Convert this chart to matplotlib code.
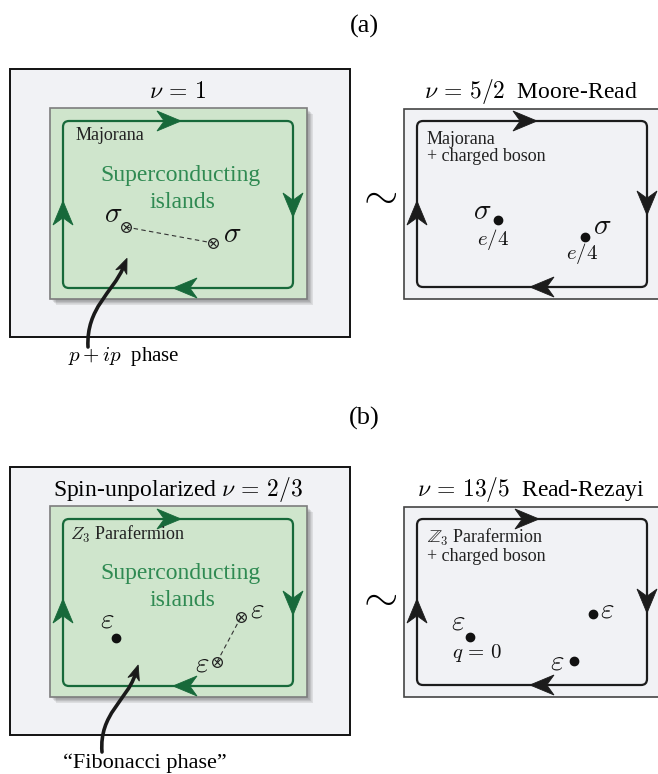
import numpy as np
import matplotlib
matplotlib.use('Agg')
import matplotlib.pyplot as plt
from matplotlib.patches import Rectangle, FancyBboxPatch, Polygon, PathPatch
from matplotlib.path import Path

plt.rcParams['font.family'] = ['Liberation Serif', 'DejaVu Serif']
plt.rcParams['mathtext.fontset'] = 'cm'

# text content
panel_tags = ['(a)', '(b)']
left_titles = [r'$\nu\,=\,1$', r'Spin-unpolarized $\nu\,=\,2/3$']
right_titles = [r'$\nu\,=\,5/2$  Moore-Read', r'$\nu\,=\,13/5$  Read-Rezayi']
left_labels = ['Majorana', r'$Z_3$ Parafermion']
right_labels = ['Majorana\n+ charged boson', r'$\mathbb{Z}_3$ Parafermion' + '\n+ charged boson']
phase_labels = [r'$p+ip$  phase', '\u201cFibonacci phase\u201d']
panel_dy = [0, 398]

# quasiparticles: (x, y, kind) kind: 'o' dot, 'x' vortex (otimes)
left_qp = [
    [(126, 227, 'x'), (213, 243, 'x')],
    [(116, 638, 'o'), (241, 617, 'x'), (217, 662, 'x')],
]
left_qp_txt = [
    [(113, 215, r'$\sigma$'), (232, 235, r'$\sigma$')],
    [(107, 621, r'$\varepsilon$'), (257, 610, r'$\varepsilon$'), (202, 665, r'$\varepsilon$')],
]
left_dash = [[(126, 227), (213, 243)], [(241, 617), (217, 662)]]
right_qp = [
    [(498, 220), (585, 237)],
    [(470, 637), (593, 614), (574, 661)],
]
right_qp_txt = [
    [(482, 212, r'$\sigma$'), (602, 227, r'$\sigma$')],
    [(458, 622, r'$\varepsilon$'), (607, 610, r'$\varepsilon$'), (557, 663, r'$\varepsilon$')],
]
charge_txt = [
    [(493, 240, r'$e/4$'), (582, 253, r'$e/4$')],
    [(477, 653, r'$q\,=\,0$')],
]

GREEN = '#17693a'
GREEN_TXT = '#2f8a52'
GREEN_FILL = '#cfe5cc'
GRAY_FILL = '#f1f2f5'


def head(ax, x, y, d, color, L=24, W=20, z=5):
    d = np.array(d, float)
    d = d / np.hypot(*d)
    n = np.array([-d[1], d[0]])
    c = np.array([x, y])
    pts = [c + L / 2 * d, c - L / 2 * d + W / 2 * n, c - L * 0.2 * d, c - L / 2 * d - W / 2 * n]
    ax.add_patch(Polygon(pts, closed=True, fc=color, ec=color, lw=0.6, zorder=z))


def loop(ax, x0, y0, x1, y1, color, arrows):
    ax.add_patch(FancyBboxPatch((x0, y0), x1 - x0, y1 - y0,
                                boxstyle='round,pad=0,rounding_size=6',
                                fc='none', ec=color, lw=1.6, zorder=4))
    top, right, bottom, left = arrows
    head(ax, top, y0, (1, 0), color)
    head(ax, x1, right, (0, 1), color)
    head(ax, bottom, y1, (-1, 0), color)
    head(ax, x0, left, (0, -1), color)


def otimes(ax, x, y):
    ax.plot(x, y, 'o', ms=7, mfc='none', mec='#222', mew=0.9, zorder=6)
    ax.plot(x, y, 'x', ms=4.2, mec='#222', mew=0.8, zorder=6)


def curved_arrow(ax, p0, p1, p2, p3):
    verts = [p0, p1, p2, p3]
    ax.add_patch(PathPatch(Path(verts, [Path.MOVETO, Path.CURVE4, Path.CURVE4, Path.CURVE4]),
                           fc='none', ec='#1a1a1a', lw=2.6, zorder=7, capstyle='round'))
    d = np.array(p3) - np.array(p2)
    d = d / np.hypot(*d)
    tip = np.array(p3) + d * 3
    head(ax, tip[0], tip[1], d, '#1a1a1a', L=15, W=12, z=8)


fig = plt.figure(figsize=(6.58, 7.74), dpi=100)
ax = fig.add_axes([0, 0, 1, 1])
ax.set_xlim(0, 658)
ax.set_ylim(774, 0)
ax.axis('off')

for i in range(2):
    dy = panel_dy[i]
    ax.text(364, 26 + dy - 6 * i, panel_tags[i], ha='center', va='center', fontsize=19)

    # left big box
    ax.add_patch(Rectangle((10, 69 + dy), 340, 268, fc=GRAY_FILL, ec='#111', lw=1.4, zorder=1))
    ax.text(178, 92 + dy, left_titles[i], ha='center', va='center', fontsize=17, zorder=3)

    # shadow + green island
    for k in range(8):
        ax.add_patch(Rectangle((50 + 2 + k * 0.6, 108 + dy + 2 + k * 0.6), 257, 191,
                               fc='#000', ec='none', alpha=0.045, zorder=2))
    ax.add_patch(Rectangle((50, 108 + dy), 257, 191, fc=GREEN_FILL, ec='#7d7d7d', lw=1.2, zorder=3))
    loop(ax, 63, 121 + dy, 293, 288 + dy, GREEN, (171 - 2, 205 + dy, 185, 213 + dy))

    ax.text(70 if i else 76, 136 + dy, left_labels[i], ha='left', va='center', fontsize=13, color='#222', zorder=6)
    ax.text(180, 175 + dy, 'Superconducting', ha='center', va='center', fontsize=17, color=GREEN_TXT, zorder=6)
    ax.text(182, 203 + dy, 'islands', ha='center', va='center', fontsize=17, color=GREEN_TXT, zorder=6)

    (xa, ya), (xb, yb) = left_dash[i]
    ax.plot([xa, xb], [ya, yb], ls=(0, (4, 3)), color='#333', lw=0.8, zorder=5)
    for x, y, kind in left_qp[i]:
        if kind == 'x':
            otimes(ax, x, y)
        else:
            ax.plot(x, y, 'o', ms=6, color='#111', zorder=6)
    for x, y, s in left_qp_txt[i]:
        ax.text(x, y, s, ha='center', va='center', fontsize=21, color='#111', zorder=6)

    # right box
    ax.text(531, 92 + dy, right_titles[i], ha='center', va='center', fontsize=17)
    ax.add_patch(Rectangle((404, 109 + dy), 270, 190, fc=GRAY_FILL, ec='#444', lw=1.2, zorder=1))
    loop(ax, 417, 121 + dy, 647, 287 + dy, '#1c1c1c', (525 + 2 * i, 203 + dy, 542, 213 + dy))
    ax.text(427, 148 + dy, right_labels[i], ha='left', va='center', fontsize=13,
            color='#222', linespacing=1.05, zorder=6)
    for x, y in right_qp[i]:
        ax.plot(x, y, 'o', ms=6, color='#111', zorder=6)
    for x, y, s in right_qp_txt[i]:
        ax.text(x, y, s, ha='center', va='center', fontsize=21, color='#111', zorder=6)
    for x, y, s in charge_txt[i]:
        ax.text(x, y, s, ha='center', va='center', fontsize=15, color='#111', zorder=6)

    ax.text(377, 196 + dy + 4 * i, r'$\sim$', ha='center', va='center', fontsize=32)

# curved arrows to the phase labels
curved_arrow(ax, (88, 347), (86, 308), (113, 292), (123, 268))
ax.text(124, 357, phase_labels[0], ha='center', va='center', fontsize=15)
curved_arrow(ax, (102, 752), (99, 714), (127, 700), (135, 675))
ax.text(145, 763, phase_labels[1], ha='center', va='center', fontsize=16)

fig.savefig('out.png', dpi=100, facecolor='white')
